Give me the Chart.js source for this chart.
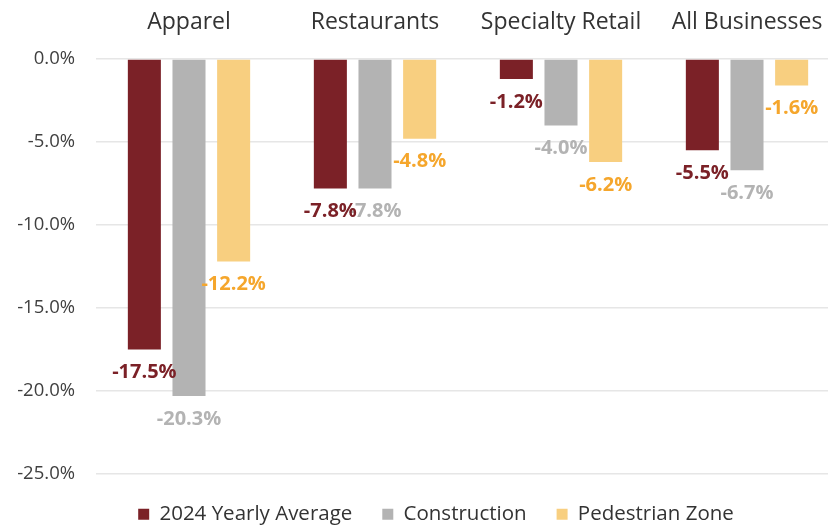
<!DOCTYPE html>
<html>
<head>
<meta charset="utf-8">
<script src="https://cdn.jsdelivr.net/npm/chart.js@4/dist/chart.umd.min.js"></script>
<style>
    html, body { margin: 0; padding: 0; background: #fff; overflow: hidden; }
    #wrap { position: relative; width: 842px; height: 527px; }
</style>
</head>
<body>
<div id="wrap"><canvas id="salesChart"></canvas></div>
<script>

// DATA

const categories = ["Apparel", "Restaurants", "Specialty Retail", "All Businesses"];

const yearlyAverage = [-17.5, -7.8, -1.2, -5.5];

const construction = [-20.3, -7.8, -4.0, -6.7];

const pedestrianZone = [-12.2, -4.8, -6.2, -1.6];

const seriesNames = ["2024 Yearly Average", "Construction", "Pedestrian Zone"];

const yTicks = [0, -5, -10, -15, -20, -25];


// COLOURS

const barColors = ["#7b2127", "#b3b3b3", "#f8cf80"];

const labelColors = ["#7b2127", "#b3b3b3", "#f5a62c"];


// VALUE LABELS UNDER EACH BAR

const valueLabels = {

    id: "valueLabels",

    afterLayout(chart) {
        // legend sits a bit right of centre in the original
        chart.legend.left += 16;
        chart.legend.right += 16;
    },

    afterDatasetsDraw(chart) {

        const ctx = chart.ctx;

        ctx.save();
        ctx.font = "bold 20px 'Open Sans'";
        ctx.textAlign = "center";
        ctx.textBaseline = "middle";

        // reverse so the red labels sit on top
        for (let d = chart.data.datasets.length - 1; d >= 0; d--) {

            const meta = chart.getDatasetMeta(d);
            const values = chart.data.datasets[d].data;

            meta.data.forEach((bar, i) => {
                ctx.fillStyle = labelColors[d];
                ctx.fillText(values[i].toFixed(1) + "%", bar.x, bar.y + 23);
            });
        }

        ctx.restore();
    }
};


// CREATE CHART

const ctx = document.getElementById("salesChart");

new Chart(ctx, {

    type: "bar",

    data: {

        labels: categories,

        datasets: [yearlyAverage, construction, pedestrianZone].map((vals, i) => ({
            label: seriesNames[i],
            data: vals,
            backgroundColor: barColors[i],
            barPercentage: 0.74,
            categoryPercentage: 0.72
        }))
    },

    options: {

        responsive: true,
        maintainAspectRatio: false,
        animation: false,

        layout: {
            padding: { left: 0, right: 2, top: 0, bottom: 0 }
        },

        scales: {

            x: {
                position: "top",
                grid: { display: false },
                border: { display: false },
                ticks: {
                    color: "#333333",
                    font: { family: "'Open Sans'", size: 23 },
                    padding: 15
                },
                afterFit(scale) {
                    scale.height = 59;
                }
            },

            y: {
                min: -25,
                max: 0,
                afterBuildTicks(scale) {
                    scale.ticks = yTicks.map((v) => ({ value: v }));
                },
                grid: {
                    color: "#e6e6e6",
                    lineWidth: 1.5,
                    drawTicks: false
                },
                border: { display: false },
                ticks: {
                    color: "#404040",
                    font: { family: "'Open Sans'", size: 18.5 },
                    padding: 21,
                    callback: (v) => v.toFixed(1) + "%"
                },
                afterFit(scale) {
                    scale.width = 96;
                }
            }
        },

        plugins: {

            legend: {
                display: true,
                position: "bottom",
                maxHeight: 53,
                labels: {
                    boxWidth: 11,
                    boxHeight: 11,
                    padding: 30,
                    color: "#333333",
                    font: { family: "'Open Sans'", size: 20.5 }
                }
            },

            tooltip: { enabled: false }
        }
    },

    plugins: [valueLabels]
});

</script>
</body>
</html>
